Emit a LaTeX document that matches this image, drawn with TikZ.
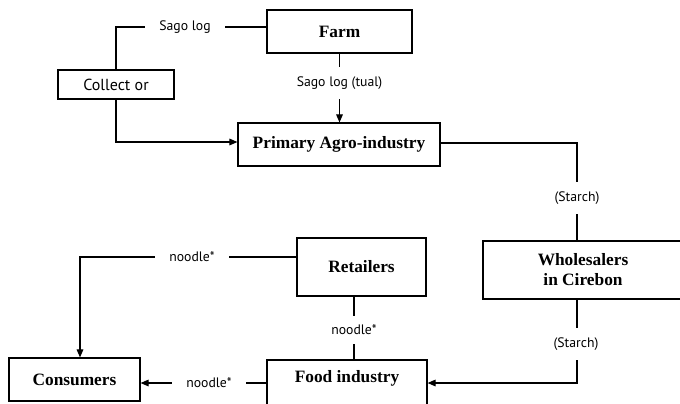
\documentclass[tikz,border=0pt]{standalone}
\usepackage{fontspec}
\setmainfont{Liberation Serif}
\newfontfamily\labfont{PT Sans}
\usetikzlibrary{arrows.meta}
\begin{document}
\begin{tikzpicture}[x=0.75pt,y=-0.75pt,
  box/.style={draw, line width=0.9pt, rectangle, inner sep=0pt, align=center,
    font=\fontsize{13}{15}\selectfont\bfseries},
  sbox/.style={draw, line width=0.9pt, rectangle, inner sep=0pt, align=center,
    font=\labfont\fontsize{12}{14}\selectfont},
  hlab/.style={fill=white, inner xsep=11pt, inner ysep=2pt, font=\labfont\fontsize{10.3}{12}\selectfont},
  vlab/.style={fill=white, inner xsep=2pt, inner ysep=7pt, font=\labfont\fontsize{10.3}{12}\selectfont},
  conn/.style={line width=0.8pt},
  arr/.style={conn, -{Triangle[length=6pt,width=5pt]}}]
\clip (0,0) rectangle (680,403);
\fill[white] (0,0) rectangle (680,403);
% boxes
\node[box, minimum width=108.75pt, minimum height=32.25pt] (farm) at (339.5,31.5) {Farm};
\node[sbox, minimum width=87pt, minimum height=21.75pt] (collector) at (116,84.5) {Collect or};
\node[box, minimum width=151.5pt, minimum height=32.25pt] (primary) at (339,144.5) {Primary Agro-industry};
\node[box, minimum width=150pt, minimum height=43.5pt] (whole) at (583,270) {Wholesalers\\in Cirebon};
\node[box, minimum width=96.75pt, minimum height=43.5pt] (retail) at (361.5,267) {Retailers};
\node[box, minimum width=98.25pt, minimum height=32.25pt] (cons) at (74.5,379.5) {Consumers};
\node[box, minimum width=120pt, minimum height=33.75pt, text depth=9.5pt] (food) at (347,382.5) {Food industry};
% connectors
\coordinate (c1) at (116,27);
\draw[conn] (farm.west |- c1) -- (c1) -- (collector.north);
\coordinate (c2) at (116,142);
\draw[arr] (collector.south) -- (c2) -- (primary.west |- c2);
\draw[arr] (farm.south) -- (farm.south |- primary.north);
\coordinate (c3) at (577,143);
\draw[conn] (primary.east |- c3) -- (c3) -- (c3 |- whole.north);
\coordinate (c4) at (577,383);
\draw[arr] (c4 |- whole.south) -- (c4) -- (food.east |- c4);
\coordinate (c5) at (80,257);
\draw[arr] (retail.west |- c5) -- (c5) -- (c5 |- cons.north);
\coordinate (c6) at (354,0);
\draw[conn] (c6 |- retail.south) -- (c6 |- food.north);
\coordinate (c7) at (0,383);
\draw[arr] (food.west |- c7) -- (cons.east |- c7);
% labels
\node[hlab] (l1) at (185,27) {Sago log};
\node[vlab] (l2) at (339.5,83) {Sago log (tual)};
\node[vlab] (l3) at (577,198) {(Starch)};
\node[vlab] (l4) at (576,344) {(Starch)};
\node[hlab] (l5) at (192,257) {noodle*};
\node[vlab] (l6) at (354,330) {noodle*};
\node[hlab] (l7) at (209,383) {noodle*};
\end{tikzpicture}
\end{document}
